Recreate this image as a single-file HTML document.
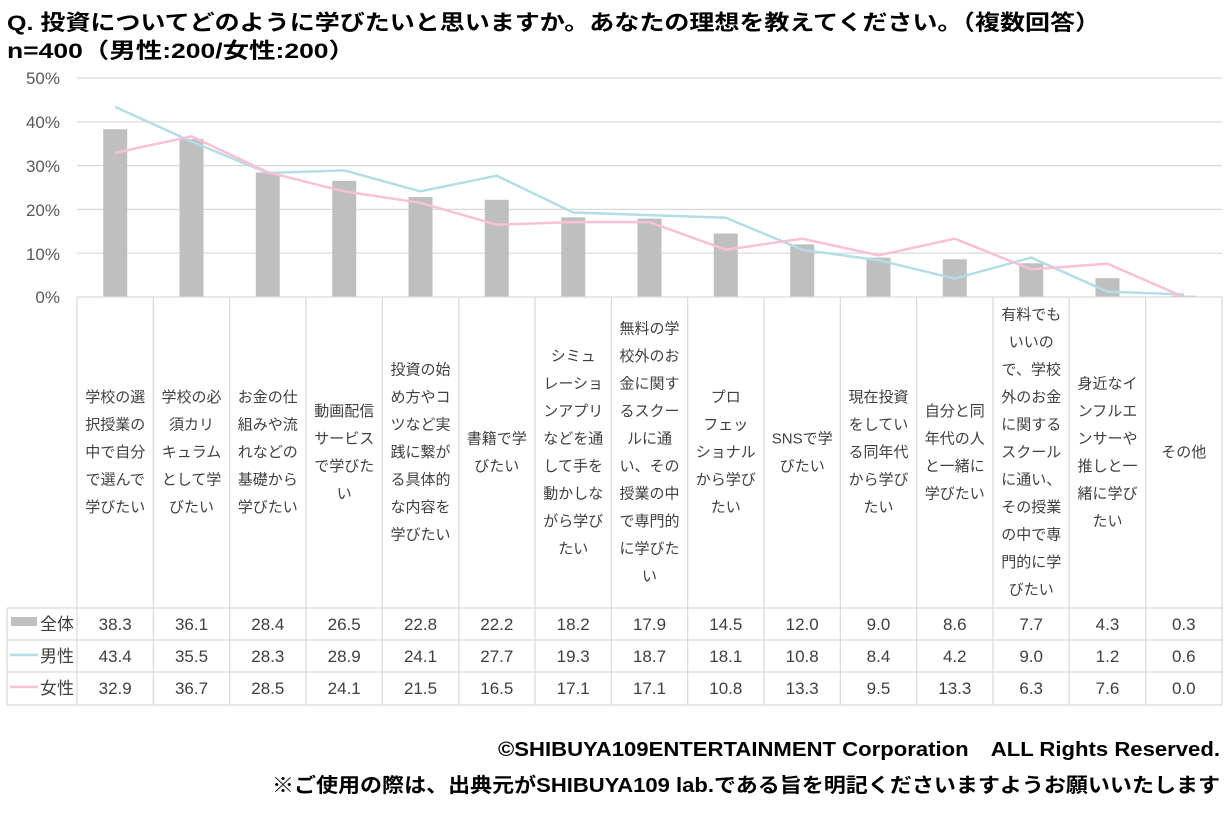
<!DOCTYPE html>
<html><head><meta charset="utf-8"><style>
body{margin:0;background:#fff;}
svg{display:block;font-family:"Liberation Sans","Noto Sans CJK JP",sans-serif;}
.t{font-weight:bold;fill:#000;}
.ax{font-size:17px;fill:#595959;}
.c{font-size:15px;fill:#404040;text-anchor:middle;}
.d{font-size:17px;fill:#404040;text-anchor:middle;}
</style></head><body>
<svg width="1229" height="838" viewBox="0 0 1229 838">
<text class="t" x="7" y="30" font-size="21.5" textLength="1093" lengthAdjust="spacingAndGlyphs">Q. 投資についてどのように学びたいと思いますか。あなたの理想を教えてください。（複数回答）</text>
<text class="t" x="7" y="58" font-size="21.5" textLength="348" lengthAdjust="spacingAndGlyphs">n=400（男性:200/女性:200）</text>
<g stroke="#d9d9d9" stroke-width="1.2">
<line x1="77" x2="1222" y1="78" y2="78"/><line x1="77" x2="1222" y1="121.8" y2="121.8"/><line x1="77" x2="1222" y1="165.6" y2="165.6"/><line x1="77" x2="1222" y1="209.4" y2="209.4"/><line x1="77" x2="1222" y1="253.2" y2="253.2"/>
</g>
<g class="ax" text-anchor="end">
<text x="60" y="84">50%</text><text x="60" y="128">40%</text><text x="60" y="172">30%</text><text x="60" y="216">20%</text><text x="60" y="260">10%</text><text x="60" y="303">0%</text>
</g>
<g fill="#bfbfbf">
<rect x="103.2" y="129.2" width="24" height="167.8"/>
<rect x="179.5" y="138.9" width="24" height="158.1"/>
<rect x="255.8" y="172.6" width="24" height="124.4"/>
<rect x="332.2" y="180.9" width="24" height="116.1"/>
<rect x="408.5" y="197.1" width="24" height="99.9"/>
<rect x="484.8" y="199.8" width="24" height="97.2"/>
<rect x="561.2" y="217.3" width="24" height="79.7"/>
<rect x="637.5" y="218.6" width="24" height="78.4"/>
<rect x="713.8" y="233.5" width="24" height="63.5"/>
<rect x="790.2" y="244.4" width="24" height="52.6"/>
<rect x="866.5" y="257.6" width="24" height="39.4"/>
<rect x="942.8" y="259.3" width="24" height="37.7"/>
<rect x="1019.2" y="263.3" width="24" height="33.7"/>
<rect x="1095.5" y="278.2" width="24" height="18.8"/>
<rect x="1171.8" y="295.7" width="24" height="1.3"/>
</g>
<polyline fill="none" stroke="#b4dde6" stroke-width="2.5" points="115.2,106.9 191.5,141.5 267.8,173 344.2,170.4 420.5,191.4 496.8,175.7 573.2,212.5 649.5,215.1 725.8,217.7 802.2,249.7 878.5,260.2 954.8,278.6 1031.2,257.6 1107.5,291.7 1183.8,294.4"/>
<polyline fill="none" stroke="#f9c0d6" stroke-width="2.5" points="115.2,152.9 191.5,136.3 267.8,172.2 344.2,191.4 420.5,202.8 496.8,224.7 573.2,222.1 649.5,222.1 725.8,249.7 802.2,238.7 878.5,255.4 954.8,238.7 1031.2,269.4 1107.5,263.7 1183.8,297"/>
<g stroke="#d9d9d9" stroke-width="1.2" fill="none">
<line x1="77" x2="1222" y1="297" y2="297"/>
<line x1="7" x2="1222" y1="608" y2="608"/><line x1="7" x2="1222" y1="640" y2="640"/><line x1="7" x2="1222" y1="672" y2="672"/><line x1="7" x2="1222" y1="705" y2="705"/>
<line x1="7" x2="7" y1="608" y2="705"/>
<line x1="77" x2="77" y1="297" y2="705"/><line x1="153.3" x2="153.3" y1="297" y2="705"/><line x1="229.7" x2="229.7" y1="297" y2="705"/><line x1="306" x2="306" y1="297" y2="705"/><line x1="382.3" x2="382.3" y1="297" y2="705"/><line x1="458.7" x2="458.7" y1="297" y2="705"/><line x1="535" x2="535" y1="297" y2="705"/><line x1="611.3" x2="611.3" y1="297" y2="705"/><line x1="687.7" x2="687.7" y1="297" y2="705"/><line x1="764" x2="764" y1="297" y2="705"/><line x1="840.3" x2="840.3" y1="297" y2="705"/><line x1="916.7" x2="916.7" y1="297" y2="705"/><line x1="993" x2="993" y1="297" y2="705"/><line x1="1069.3" x2="1069.3" y1="297" y2="705"/><line x1="1145.7" x2="1145.7" y1="297" y2="705"/><line x1="1222" x2="1222" y1="297" y2="705"/>
</g>
<g class="c">
<text y="402"><tspan x="115.2">学校の選</tspan><tspan x="115.2" dy="27.5">択授業の</tspan><tspan x="115.2" dy="27.5">中で自分</tspan><tspan x="115.2" dy="27.5">で選んで</tspan><tspan x="115.2" dy="27.5">学びたい</tspan></text>
<text y="402"><tspan x="191.5">学校の必</tspan><tspan x="191.5" dy="27.5">須カリ</tspan><tspan x="191.5" dy="27.5">キュラム</tspan><tspan x="191.5" dy="27.5">として学</tspan><tspan x="191.5" dy="27.5">びたい</tspan></text>
<text y="402"><tspan x="267.8">お金の仕</tspan><tspan x="267.8" dy="27.5">組みや流</tspan><tspan x="267.8" dy="27.5">れなどの</tspan><tspan x="267.8" dy="27.5">基礎から</tspan><tspan x="267.8" dy="27.5">学びたい</tspan></text>
<text y="415.8"><tspan x="344.2">動画配信</tspan><tspan x="344.2" dy="27.5">サービス</tspan><tspan x="344.2" dy="27.5">で学びた</tspan><tspan x="344.2" dy="27.5">い</tspan></text>
<text y="374.5"><tspan x="420.5">投資の始</tspan><tspan x="420.5" dy="27.5">め方やコ</tspan><tspan x="420.5" dy="27.5">ツなど実</tspan><tspan x="420.5" dy="27.5">践に繋が</tspan><tspan x="420.5" dy="27.5">る具体的</tspan><tspan x="420.5" dy="27.5">な内容を</tspan><tspan x="420.5" dy="27.5">学びたい</tspan></text>
<text y="443.3"><tspan x="496.8">書籍で学</tspan><tspan x="496.8" dy="27.5">びたい</tspan></text>
<text y="360.8"><tspan x="573.2">シミュ</tspan><tspan x="573.2" dy="27.5">レーショ</tspan><tspan x="573.2" dy="27.5">ンアプリ</tspan><tspan x="573.2" dy="27.5">などを通</tspan><tspan x="573.2" dy="27.5">して手を</tspan><tspan x="573.2" dy="27.5">動かしな</tspan><tspan x="573.2" dy="27.5">がら学び</tspan><tspan x="573.2" dy="27.5">たい</tspan></text>
<text y="333.3"><tspan x="649.5">無料の学</tspan><tspan x="649.5" dy="27.5">校外のお</tspan><tspan x="649.5" dy="27.5">金に関す</tspan><tspan x="649.5" dy="27.5">るスクー</tspan><tspan x="649.5" dy="27.5">ルに通</tspan><tspan x="649.5" dy="27.5">い、その</tspan><tspan x="649.5" dy="27.5">授業の中</tspan><tspan x="649.5" dy="27.5">で専門的</tspan><tspan x="649.5" dy="27.5">に学びた</tspan><tspan x="649.5" dy="27.5">い</tspan></text>
<text y="402"><tspan x="725.8">プロ</tspan><tspan x="725.8" dy="27.5">フェッ</tspan><tspan x="725.8" dy="27.5">ショナル</tspan><tspan x="725.8" dy="27.5">から学び</tspan><tspan x="725.8" dy="27.5">たい</tspan></text>
<text y="443.3"><tspan x="802.2">SNSで学</tspan><tspan x="802.2" dy="27.5">びたい</tspan></text>
<text y="402"><tspan x="878.5">現在投資</tspan><tspan x="878.5" dy="27.5">をしてい</tspan><tspan x="878.5" dy="27.5">る同年代</tspan><tspan x="878.5" dy="27.5">から学び</tspan><tspan x="878.5" dy="27.5">たい</tspan></text>
<text y="415.8"><tspan x="954.8">自分と同</tspan><tspan x="954.8" dy="27.5">年代の人</tspan><tspan x="954.8" dy="27.5">と一緒に</tspan><tspan x="954.8" dy="27.5">学びたい</tspan></text>
<text y="319.5"><tspan x="1031.2">有料でも</tspan><tspan x="1031.2" dy="27.5">いいの</tspan><tspan x="1031.2" dy="27.5">で、学校</tspan><tspan x="1031.2" dy="27.5">外のお金</tspan><tspan x="1031.2" dy="27.5">に関する</tspan><tspan x="1031.2" dy="27.5">スクール</tspan><tspan x="1031.2" dy="27.5">に通い、</tspan><tspan x="1031.2" dy="27.5">その授業</tspan><tspan x="1031.2" dy="27.5">の中で専</tspan><tspan x="1031.2" dy="27.5">門的に学</tspan><tspan x="1031.2" dy="27.5">びたい</tspan></text>
<text y="388.3"><tspan x="1107.5">身近なイ</tspan><tspan x="1107.5" dy="27.5">ンフルエ</tspan><tspan x="1107.5" dy="27.5">ンサーや</tspan><tspan x="1107.5" dy="27.5">推しと一</tspan><tspan x="1107.5" dy="27.5">緒に学び</tspan><tspan x="1107.5" dy="27.5">たい</tspan></text>
<text y="457"><tspan x="1183.8">その他</tspan></text>
</g>
<rect x="11" y="617" width="26" height="9" fill="#bfbfbf"/>
<line x1="10" x2="38" y1="655" y2="655" stroke="#b4dde6" stroke-width="2.5"/>
<line x1="10" x2="38" y1="687" y2="687" stroke="#f9c0d6" stroke-width="2.5"/>
<g font-size="17" fill="#404040">
<text x="40" y="630">全体</text><text x="40" y="662">男性</text><text x="40" y="694">女性</text>
</g>
<g class="d">
<text y="630"><tspan x="115.2">38.3</tspan><tspan x="191.5">36.1</tspan><tspan x="267.8">28.4</tspan><tspan x="344.2">26.5</tspan><tspan x="420.5">22.8</tspan><tspan x="496.8">22.2</tspan><tspan x="573.2">18.2</tspan><tspan x="649.5">17.9</tspan><tspan x="725.8">14.5</tspan><tspan x="802.2">12.0</tspan><tspan x="878.5">9.0</tspan><tspan x="954.8">8.6</tspan><tspan x="1031.2">7.7</tspan><tspan x="1107.5">4.3</tspan><tspan x="1183.8">0.3</tspan></text>
<text y="662"><tspan x="115.2">43.4</tspan><tspan x="191.5">35.5</tspan><tspan x="267.8">28.3</tspan><tspan x="344.2">28.9</tspan><tspan x="420.5">24.1</tspan><tspan x="496.8">27.7</tspan><tspan x="573.2">19.3</tspan><tspan x="649.5">18.7</tspan><tspan x="725.8">18.1</tspan><tspan x="802.2">10.8</tspan><tspan x="878.5">8.4</tspan><tspan x="954.8">4.2</tspan><tspan x="1031.2">9.0</tspan><tspan x="1107.5">1.2</tspan><tspan x="1183.8">0.6</tspan></text>
<text y="694"><tspan x="115.2">32.9</tspan><tspan x="191.5">36.7</tspan><tspan x="267.8">28.5</tspan><tspan x="344.2">24.1</tspan><tspan x="420.5">21.5</tspan><tspan x="496.8">16.5</tspan><tspan x="573.2">17.1</tspan><tspan x="649.5">17.1</tspan><tspan x="725.8">10.8</tspan><tspan x="802.2">13.3</tspan><tspan x="878.5">9.5</tspan><tspan x="954.8">13.3</tspan><tspan x="1031.2">6.3</tspan><tspan x="1107.5">7.6</tspan><tspan x="1183.8">0.0</tspan></text>
</g>
<text class="t" x="1220" y="756" font-size="20" text-anchor="end" textLength="722" lengthAdjust="spacingAndGlyphs">©SHIBUYA109ENTERTAINMENT Corporation　ALL Rights Reserved.</text>
<text class="t" x="1220" y="792" font-size="20" text-anchor="end" textLength="948" lengthAdjust="spacingAndGlyphs">※ご使用の際は、出典元がSHIBUYA109 lab.である旨を明記くださいますようお願いいたします</text>
</svg>
</body></html>
